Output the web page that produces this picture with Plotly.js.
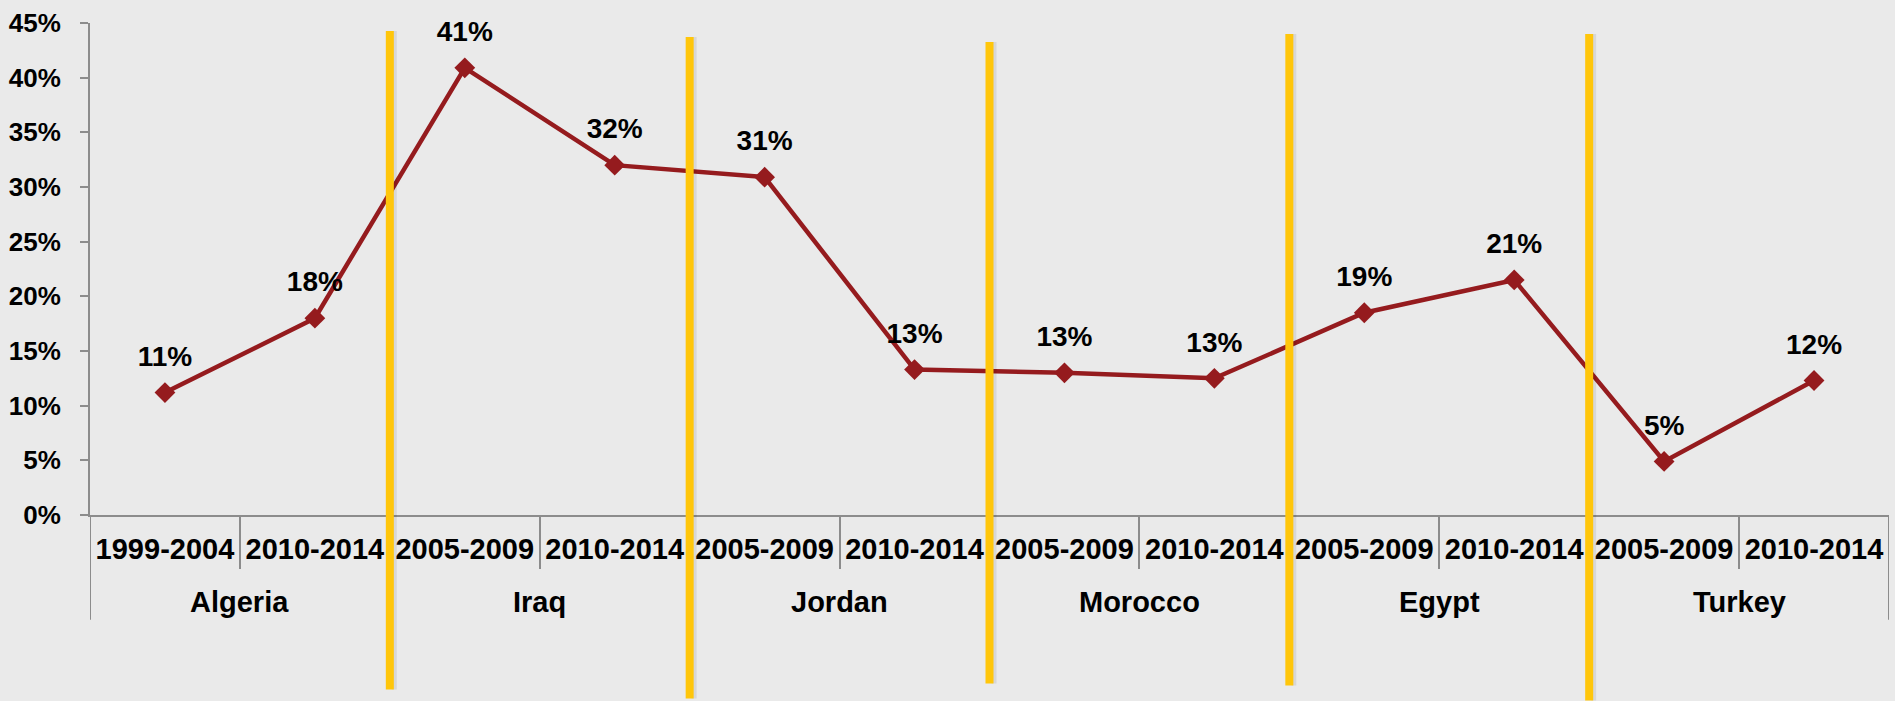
<!DOCTYPE html>
<html>
<head>
<meta charset="utf-8">
<script src="https://cdn.plot.ly/plotly-3.0.1.min.js"></script>
<style>
  html, body { margin: 0; padding: 0; background: #EAEAEA; }
  #chart { width: 1895px; height: 701px; }
</style>
</head>
<body>
<div id="chart"></div>
<script>
// ---- data ----
const countries = ['Algeria','Algeria','Iraq','Iraq','Jordan','Jordan','Morocco','Morocco','Egypt','Egypt','Turkey','Turkey'];
const periods   = ['1999-2004','2010-2014','2005-2009','2010-2014','2005-2009','2010-2014','2005-2009','2010-2014','2005-2009','2010-2014','2005-2009','2010-2014'];
const shares    = [0.112, 0.180, 0.409, 0.320, 0.309, 0.133, 0.130, 0.125, 0.185, 0.215, 0.049, 0.123];
const pctLabels = ['11%','18%','41%','32%','31%','13%','13%','13%','19%','21%','5%','12%'];
const yTickVals = [0, 0.05, 0.10, 0.15, 0.20, 0.25, 0.30, 0.35, 0.40, 0.45];

// ---- style ----
const FONT = 'Liberation Sans, Arial, sans-serif';
const RED = '#951B1E';
const GRAY = '#8C8C8C';
const YELLOW = '#FFC60B';
const BG = '#EAEAEA';

// category positions on the x axis (one slot per country/period pair)
const n = countries.length;
const xPos = countries.map((_, i) => i);

// country groups
const groups = [];
countries.forEach((c, i) => {
  if (!groups.length || groups[groups.length - 1].name !== c) groups.push({ name: c, start: i, end: i });
  else groups[groups.length - 1].end = i;
});

const plotTop = 23, plotBottom = 515.3;
const toPaperY = py => (plotBottom - py) / (plotBottom - plotTop);

const lineTrace = {
  type: 'scatter',
  mode: 'lines+markers',
  x: xPos,
  y: shares,
  line: { color: RED, width: 4.5 },
  marker: { symbol: 'diamond', size: 16, color: RED },
  hoverinfo: 'skip',
  showlegend: false
};

const labelTrace = {
  type: 'scatter',
  mode: 'markers+text',
  x: xPos,
  y: shares,
  text: pctLabels,
  textposition: 'top center',
  textfont: { family: FONT, size: 28, weight: 'bold', color: '#000' },
  marker: { size: 30, color: 'rgba(0,0,0,0)' },
  hoverinfo: 'skip',
  showlegend: false,
  cliponaxis: false
};

const shapes = [];
// long group dividers below the axis (edges and between countries)
const dividerX = [-0.5].concat(groups.map(g => g.end + 0.5));
dividerX.forEach(dx => {
  shapes.push({
    type: 'line', xref: 'x', yref: 'paper',
    x0: dx, x1: dx, y0: 0, y1: toPaperY(620),
    line: { color: GRAY, width: 2 }, layer: 'above'
  });
});

// yellow separators between country groups
const sepTop = [31, 37, 42, 34, 34];
const sepBot = [690, 699, 684, 686, 701];
groups.slice(0, -1).forEach((g, k) => {
  const bx = g.end + 0.5;
  shapes.push({
    type: 'rect', xref: 'x', yref: 'paper', xsizemode: 'pixel', xanchor: bx,
    x0: 2, x1: 7, y0: toPaperY(sepBot[k]), y1: toPaperY(sepTop[k]),
    fillcolor: 'rgba(0,0,0,0.08)', line: { width: 0 }, layer: 'above'
  });
  shapes.push({
    type: 'rect', xref: 'x', yref: 'paper', xsizemode: 'pixel', xanchor: bx,
    x0: -4, x1: 4, y0: toPaperY(sepBot[k]), y1: toPaperY(sepTop[k]),
    fillcolor: YELLOW, line: { width: 0 }, layer: 'above'
  });
});

// country names under their period labels
const annotations = groups.map(g => ({
  xref: 'x', yref: 'paper',
  x: (g.start + g.end) / 2, y: toPaperY(602),
  text: g.name, showarrow: false,
  xanchor: 'center', yanchor: 'middle',
  font: { family: FONT, size: 29, weight: 'bold', color: '#000' }
}));

const minorVals = [];
for (let i = 0; i < n - 1; i++) minorVals.push(i + 0.5);

const layout = {
  width: 1895,
  height: 701,
  paper_bgcolor: BG,
  plot_bgcolor: BG,
  margin: { l: 90, r: 6, t: 23, b: 186, pad: 0 },
  font: { family: FONT, color: '#000' },
  showlegend: false,
  xaxis: {
    range: [-0.5, n - 0.5],
    tickmode: 'array', tickvals: xPos, ticktext: periods, tickangle: 0,
    ticks: '', ticklabelstandoff: 7,
    showline: true, linecolor: GRAY, linewidth: 2,
    showgrid: false, zeroline: false,
    minor: { tickmode: 'array', tickvals: minorVals, ticks: 'outside', ticklen: 52, tickwidth: 2, tickcolor: GRAY, showgrid: false },
    tickfont: { family: FONT, size: 29, weight: 'bold', color: '#000' }
  },
  yaxis: {
    range: [0, 0.45],
    tickvals: yTickVals,
    tickformat: '.0%',
    ticks: 'outside', ticklen: 8, tickwidth: 2, tickcolor: GRAY,
    showline: true, linecolor: GRAY, linewidth: 2,
    showgrid: false, zeroline: false,
    ticklabelstandoff: 14,
    tickfont: { family: FONT, size: 26, weight: 'bold', color: '#000' }
  },
  shapes: shapes,
  annotations: annotations
};

Plotly.newPlot('chart', [lineTrace, labelTrace], layout, { staticPlot: true, displayModeBar: false });
</script>
</body>
</html>
